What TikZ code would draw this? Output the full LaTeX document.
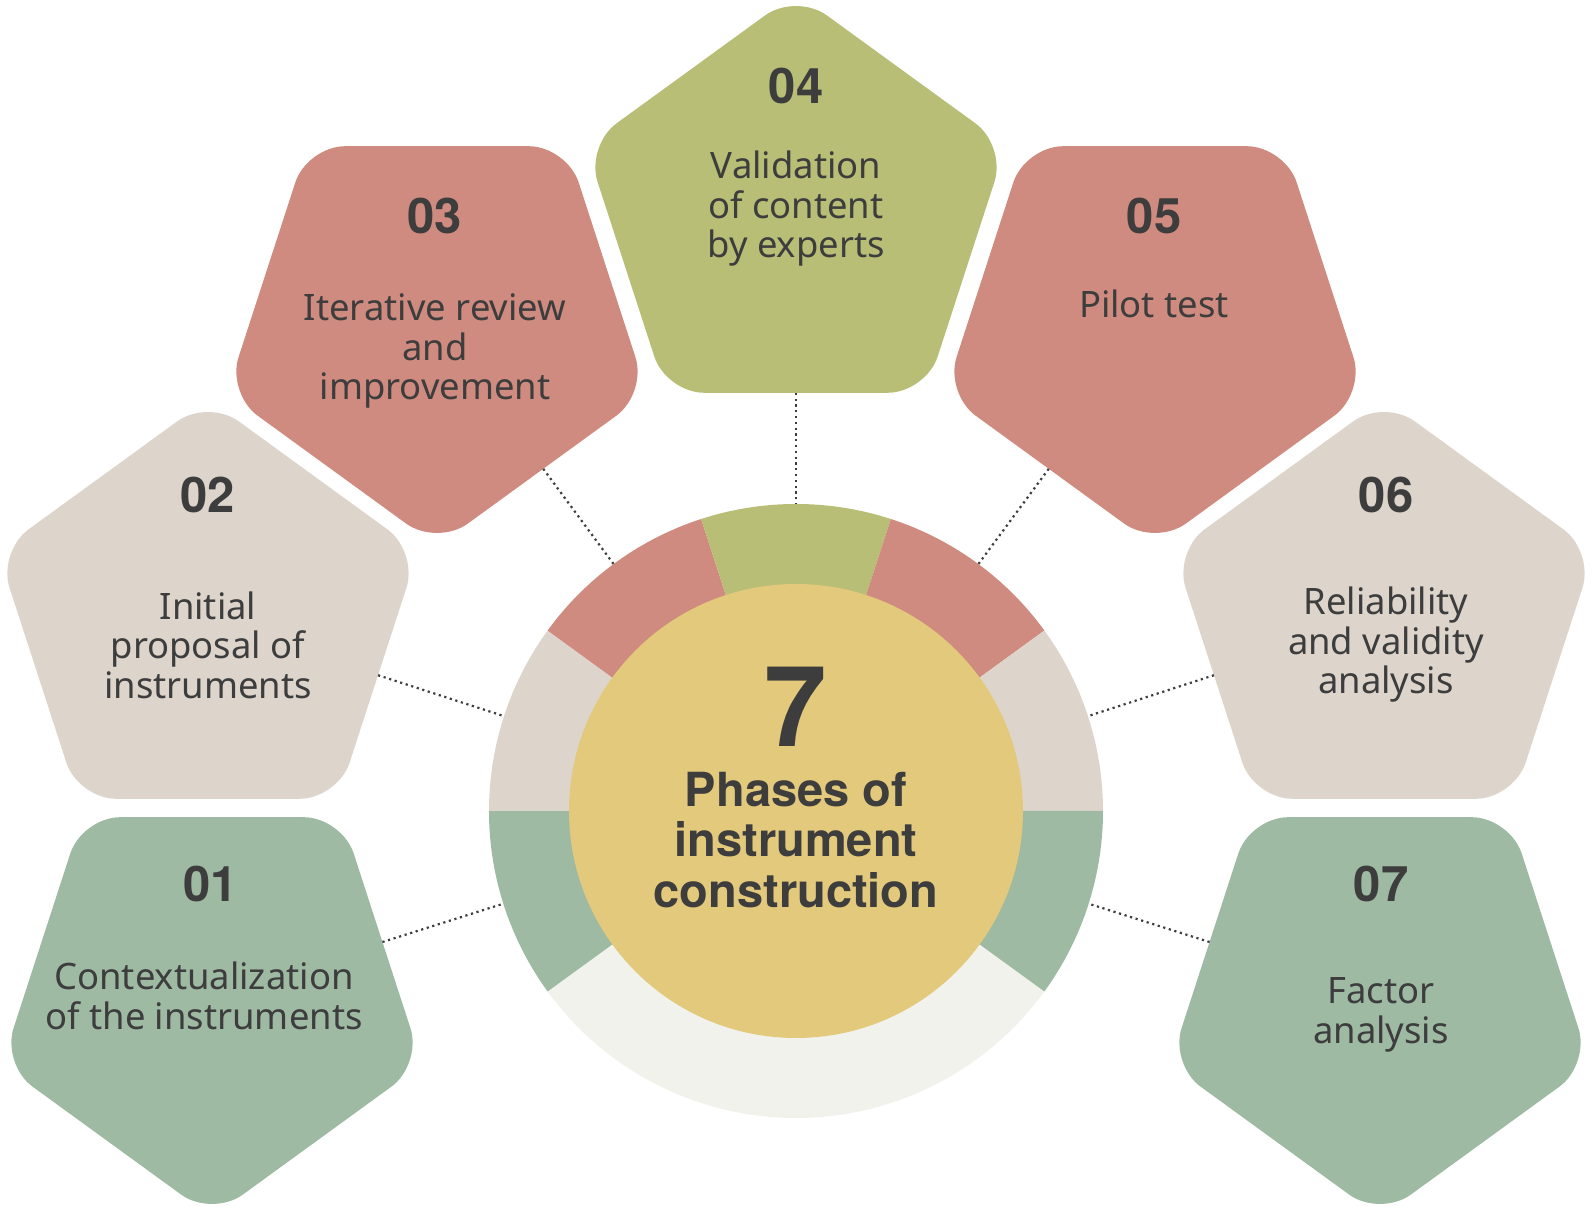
\documentclass[tikz,border=0pt]{standalone}
\usepackage{fontspec}
\setmainfont{Noto Sans}
\newfontfamily\heavy{TeX Gyre Heros}
\usetikzlibrary{shapes.geometric}
\definecolor{cgreen}{HTML}{9EBAA3}
\definecolor{cbeige}{HTML}{DDD5CC}
\definecolor{cred}{HTML}{CF8B7F}
\definecolor{colive}{HTML}{B9BE76}
\definecolor{cyellow}{HTML}{E3C97B}
\definecolor{clight}{HTML}{F1F2EB}
\definecolor{txt}{HTML}{3D3D3D}
\tikzset{
  pent/.style={regular polygon, regular polygon sides=5, minimum size=221pt,
    inner sep=0pt, outer sep=0pt, rounded corners=19pt},
  pdown/.style={pent, shape border rotate=180},
  num/.style={font=\heavy\bfseries\fontsize{24.5}{26}\selectfont, text=txt, inner sep=0pt},
  body/.style={font=\fontsize{18.2}{19.75}\selectfont, text=txt, align=center, inner sep=0pt},
  link/.style={draw=txt, line width=1.1pt, dash pattern=on 1.1pt off 1.8pt},
}
\begin{document}
\begin{tikzpicture}[x=0.5pt,y=0.5pt]
\useasboundingbox (-796,-397) rectangle (798,811);
% ring segments
\fill[clight] (0,0) -- (216:307) arc[start angle=216,end angle=324,radius=307] -- cycle;
\fill[cgreen] (0,0) -- (180:307) arc[start angle=180,end angle=216,radius=307] -- cycle;
\fill[cbeige] (0,0) -- (144:307) arc[start angle=144,end angle=180,radius=307] -- cycle;
\fill[cred] (0,0) -- (108:307) arc[start angle=108,end angle=144,radius=307] -- cycle;
\fill[colive] (0,0) -- (72:307) arc[start angle=72,end angle=108,radius=307] -- cycle;
\fill[cred] (0,0) -- (36:307) arc[start angle=36,end angle=72,radius=307] -- cycle;
\fill[cbeige] (0,0) -- (0:307) arc[start angle=0,end angle=36,radius=307] -- cycle;
\fill[cgreen] (0,0) -- (-36:307) arc[start angle=-36,end angle=0,radius=307] -- cycle;
\node[circle, minimum size=307pt, inner sep=0pt, outer sep=0pt] (ring) at (0,0) {};
\node[circle, fill=cyellow, minimum size=227pt, inner sep=0pt, outer sep=0pt] (core) at (0,0) {};

% pentagons
\node[pdown, fill=cgreen] (p01) at (-584,-185) {};
\node[pent,  fill=cbeige] (p02) at (-588,191) {};
\node[pdown, fill=cred]   (p03) at (-359,486) {};
\node[pent,  fill=colive] (p04) at (0,597) {};
\node[pdown, fill=cred]   (p05) at (359,486) {};
\node[pent,  fill=cbeige] (p06) at (588,191) {};
\node[pdown, fill=cgreen] (p07) at (584,-185) {};

% connectors
\foreach \p in {p01,p02,p03,p04,p05,p06,p07}
  \draw[link] (\p) -- (ring);

% numbers
\node[num] (n01) at (-585,-73) {01};
\node[num] (n02) at (-588,316) {02};
\node[num] (n03) at (-361,595) {03};
\node[num] (n04) at (0,725) {04};
\node[num] (n05) at (358,595) {05};
\node[num] (n06) at (590,316) {06};
\node[num] (n07) at (585,-73) {07};

% labels
\node[body] (t01) at (-592,-185) {Contextualization\\of the instruments};
\node[body] (t02) at (-588,166) {Initial\\proposal of\\instruments};
\node[body] (t03) at (-361,460) {Iterative review\\and\\improvement};
\node[body] (t04) at (0,602) {Validation\\of content\\by experts};
\node[body] (t05) at (358,507) {Pilot test};
\node[body] (t06) at (590,166) {Reliability\\and validity\\analysis};
\node[body] (t07) at (585,-204) {Factor\\analysis};

% center
\node[font=\heavy\bfseries\fontsize{56}{60}\selectfont, text=txt, inner sep=0pt] (seven) at (0,104) {7};
\node[font=\heavy\bfseries\fontsize{23.5}{25.25}\selectfont, text=txt, align=center, inner sep=0pt] (title) at (0,-29) {Phases of\\instrument\\construction};
\end{tikzpicture}
\end{document}
